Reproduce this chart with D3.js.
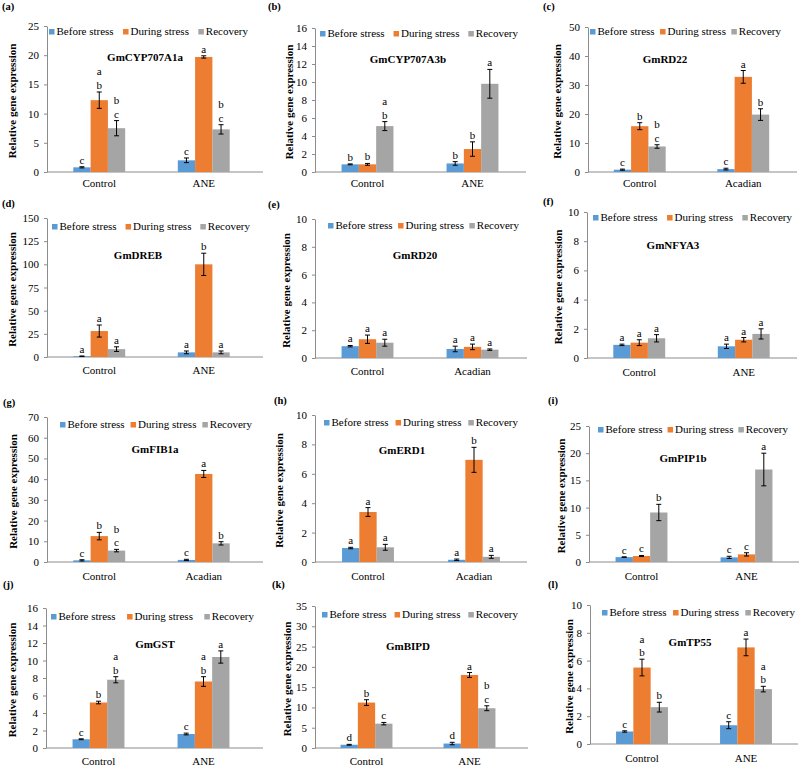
<!DOCTYPE html>
<html><head><meta charset="utf-8">
<script src="https://cdn.jsdelivr.net/npm/d3@7"></script>
<style>
body{margin:0;background:#fff}
svg{display:block}
</style>
</head><body><svg id="chart" width="800" height="766"></svg>
<script>
// ---------- data ----------
const seriesNames = ["Before stress", "During stress", "Recovery"];
const panelTags = ["(a)","(b)","(c)","(d)","(e)","(f)","(g)","(h)","(i)","(j)","(k)","(l)"];
const genes = ["GmCYP707A1a","GmCYP707A3b","GmRD22","GmDREB","GmRD20","GmNFYA3","GmFIB1a","GmERD1","GmPIP1b","GmGST","GmBIPD","GmTP55"];
const groups = [["Control","ANE"],["Control","ANE"],["Control","Acadian"],["Control","ANE"],["Control","Acadian"],["Control","ANE"],
                ["Control","Acadian"],["Control","Acadian"],["Control","ANE"],["Control","ANE"],["Control","ANE"],["Control","ANE"]];
const yMax  = [25,16,50,150,10,10,70,10,25,16,35,10];
const yStep = [5,2,10,25,2,2,10,2,5,2,5,2];
const means = [
  [[0.8,12.3,7.5],[2.0,19.7,7.3]],
  [[0.85,0.85,5.1],[0.95,2.55,9.8]],
  [[0.8,15.8,8.8],[1.0,32.8,19.8]],
  [[0.8,28,8.5],[5,100,5]],
  [[0.85,1.35,1.1],[0.65,0.8,0.6]],
  [[0.9,1.05,1.35],[0.8,1.25,1.65]],
  [[0.8,12.5,5.5],[1.0,42.5,9.0]],
  [[0.95,3.4,1.0],[0.15,6.95,0.35]],
  [[0.9,1.1,9.1],[0.85,1.4,17.0]],
  [[1.0,5.2,7.8],[1.6,7.6,10.4]],
  [[0.8,11.2,6.0],[1.1,18.0,9.8]],
  [[0.9,5.5,2.65],[1.35,6.95,3.95]]
];
const errs = [
  [[0.1,1.4,1.3],[0.4,0.2,0.8]],
  [[0.05,0.1,0.5],[0.2,0.8,1.6]],
  [[0.2,1.2,0.6],[0.3,2.2,2.0]],
  [[0.3,6.5,2.5],[1.5,12,1.5]],
  [[0.05,0.3,0.25],[0.2,0.2,0.05]],
  [[0.05,0.2,0.25],[0.15,0.15,0.35]],
  [[0.3,1.8,0.6],[0.3,1.7,0.8]],
  [[0.05,0.3,0.2],[0.05,0.85,0.1]],
  [[0.05,0.1,1.5],[0.2,0.3,3.0]],
  [[0.05,0.15,0.35],[0.1,0.55,0.7]],
  [[0.1,0.7,0.3],[0.3,0.6,0.6]],
  [[0.05,0.6,0.35],[0.25,0.6,0.2]]
];
// stacked significance letters, top line first
const letters = [
  [["c","ab","bc"],["c","a","bc"]],
  [["b","b","ab"],["b","b","a"]],
  [["c","b","bc"],["c","a","b"]],
  [["a","a","a"],["a","b","a"]],
  [["a","a","a"],["a","a","a"]],
  [["a","a","a"],["a","a","a"]],
  [["c","b","bc"],["c","a","b"]],
  [["a","a","a"],["a","b","a"]],
  [["c","c","b"],["c","c","a"]],
  [["c","b","ab"],["c","ab","a"]],
  [["d","b","c"],["d","a","bc"]],
  [["c","ab","b"],["c","a","ab"]]
];

// ---------- layout / style ----------
const colors = ["#5B9BD5","#ED7D31","#A5A5A5"];
const layout = [
  {l:47,r:256,end:263,t:26,b:172,tx:2,ty:10,yt:13,gx:145,gy:61,lx0:49,lx1:248,ly:32,cy:187},
  {l:315,r:525,end:526,t:28,b:172,tx:268,ty:10,yt:290,gx:408,gy:63,lx0:320,lx1:518,ly:34,cy:187},
  {l:588,r:795,end:797,t:27,b:172,tx:543,ty:10,yt:558,gx:665,gy:63,lx0:590,lx1:781,ly:32,cy:187},
  {l:47,r:256,end:263,t:218,b:357,tx:2,ty:207,yt:13,gx:138,gy:259,lx0:52,lx1:250,ly:227,cy:374},
  {l:315,r:525,end:527,t:219,b:358,tx:268,ty:208,yt:287,gx:415,gy:259,lx0:328,lx1:519,ly:226,cy:375},
  {l:587,r:796,end:797,t:212,b:358,tx:543,ty:205,yt:559,gx:673,gy:249,lx0:593,lx1:792,ly:218,cy:376},
  {l:47,r:256,end:263,t:417,b:562,tx:3,ty:406,yt:14,gx:155,gy:453,lx0:60,lx1:252,ly:425,cy:580},
  {l:315,r:527,end:527,t:415,b:562,tx:274,ty:404,yt:280,gx:402,gy:454,lx0:324,lx1:518,ly:423,cy:580},
  {l:589,r:799,end:799,t:426,b:562,tx:548,ty:404,yt:562,gx:683,gy:462,lx0:598,lx1:788,ly:430,cy:580},
  {l:46,r:256,end:263,t:608,b:748,tx:3,ty:588,yt:13,gx:155,gy:648,lx0:51,lx1:254,ly:617,cy:765},
  {l:315,r:521,end:528,t:606,b:748,tx:272,ty:588,yt:288,gx:408,gy:650,lx0:322,lx1:518,ly:615,cy:765},
  {l:590,r:798,end:798,t:605,b:744,tx:548,ty:588,yt:570,gx:690,gy:646,lx0:602,lx1:795,ly:613,cy:762}
];
const FS = 11, BAR = 17.3, AXC = "#8c8c8c";
const FONT = "'Liberation Serif', 'Times New Roman', 'DejaVu Serif', serif";

const svg = d3.select("#chart");
svg.append("rect").attr("width",800).attr("height",766).attr("fill","#fff");

function txt(sel) { return sel.style("font-family", FONT).attr("fill", "#000"); }

layout.forEach((L, p) => {
  const g = svg.append("g");
  const x = d3.scaleBand().domain(groups[p]).range([L.l, L.r]).padding(0);
  const bw = x.bandwidth();
  const xs = d3.scaleBand().domain(seriesNames).range([bw/2 - 1.5*BAR, bw/2 + 1.5*BAR]).padding(0);
  const y = d3.scaleLinear().domain([0, yMax[p]]).range([L.b, L.t]);

  // panel tag
  txt(g.append("text")).attr("x", L.tx).attr("y", L.ty).attr("font-size", 10.5).attr("font-weight","bold").text(panelTags[p]);

  // y axis
  const ya = g.append("g").attr("transform", `translate(${L.l},0)`)
    .call(d3.axisLeft(y).tickValues(d3.range(0, yMax[p] + yStep[p]/2, yStep[p])).tickSize(3).tickSizeOuter(0).tickPadding(5));
  ya.attr("font-family", null);
  ya.select(".domain").attr("stroke", AXC);
  ya.selectAll(".tick line").attr("stroke", AXC);
  txt(ya.selectAll(".tick text")).attr("font-size", FS);

  // x axis line
  g.append("line").attr("x1", L.l).attr("x2", L.end).attr("y1", L.b).attr("y2", L.b).attr("stroke", AXC);

  // y title
  txt(g.append("text")).attr("transform", `translate(${L.yt},${(L.t+L.b)/2 + 2}) rotate(-90)`)
    .attr("text-anchor","middle").attr("dominant-baseline","middle")
    .attr("font-size", FS).attr("font-weight","bold").text("Relative gene expression");

  // category labels
  groups[p].forEach(c => {
    txt(g.append("text")).attr("x", x(c) + bw/2).attr("y", L.cy).attr("text-anchor","middle").attr("font-size", FS).text(c);
  });

  // bars, error bars, letters
  groups[p].forEach((c, gi) => {
    seriesNames.forEach((s, si) => {
      const v = means[p][gi][si], e = errs[p][gi][si];
      const bx = x(c) + xs(s);
      g.append("rect").attr("x", bx).attr("width", xs.bandwidth())
        .attr("y", y(v)).attr("height", y(0) - y(v)).attr("fill", colors[si]);
      const cx = bx + xs.bandwidth()/2;
      const y1 = y(v + e), y2 = y(Math.max(0, v - e));
      g.append("line").attr("x1", cx).attr("x2", cx).attr("y1", y1).attr("y2", y2).attr("stroke","#000").attr("stroke-width",1);
      [y1, y2].forEach(yy => g.append("line").attr("x1", cx-2.5).attr("x2", cx+2.5).attr("y1", yy).attr("y2", yy).attr("stroke","#000").attr("stroke-width",1));
      const lines = letters[p][gi][si].split("");
      lines.forEach((ch, k) => {
        const yy = y1 - 3 - (lines.length - 1 - k) * 13.5;
        txt(g.append("text")).attr("x", cx).attr("y", yy).attr("text-anchor","middle").attr("font-size", FS).text(ch);
      });
    });
  });

  // gene title
  txt(g.append("text")).attr("x", L.gx).attr("y", L.gy).attr("text-anchor","middle").attr("font-size", FS).attr("font-weight","bold").text(genes[p]);

  // legend
  const lg = g.append("g");
  const items = seriesNames.map((s, si) => {
    const it = lg.append("g");
    it.append("rect").attr("width", 5.5).attr("height", 5.5).attr("y", -3).attr("fill", colors[si]);
    const t = txt(it.append("text")).attr("x", 7.5).attr("y", 0).attr("dominant-baseline","middle").attr("font-size", FS).text(s);
    return {it, w: 7.5 + t.node().getComputedTextLength()};
  });
  const total = d3.sum(items, d => d.w);
  const gap = (L.lx1 - L.lx0 - total) / 2;
  let cx = L.lx0;
  items.forEach(d => { d.it.attr("transform", `translate(${cx},${L.ly})`); cx += d.w + gap; });
});
</script>
</body></html>
